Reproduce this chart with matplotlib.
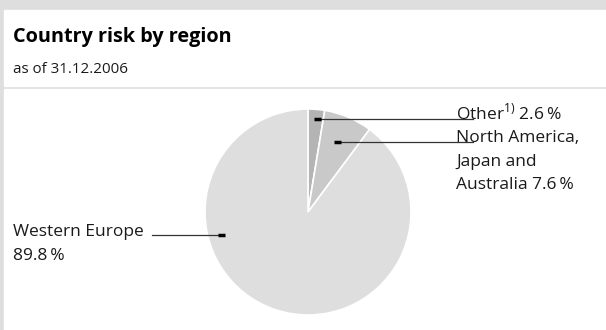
import matplotlib
matplotlib.use("Agg")
import matplotlib.pyplot as plt
from matplotlib.patches import Rectangle
import numpy as np

plt.rcParams['font.family'] = ['Open Sans', 'DejaVu Sans']
plt.rcParams['mathtext.fontset'] = 'custom'
plt.rcParams['mathtext.rm'] = 'Open Sans'

# data
regions = ['Other', 'North America, Japan and Australia', 'Western Europe']
shares = [2.6, 7.6, 89.8]
labels = [['Other$^{\\mathrm{1)}}$ 2.6\u2009%'],
          ['North America,', 'Japan and', 'Australia 7.6\u2009%'],
          ['Western Europe', '89.8\u2009%']]
colors = ['#b4b4b4', '#c9c9c9', '#dedede']

title = 'Country risk by region'
subtitle = 'as of 31.12.2006'

W, H = 606, 330
fig = plt.figure(figsize=(W / 100, H / 100), dpi=100)

# background panels (pixel coords, y down)
bg = fig.add_axes([0, 0, 1, 1], zorder=0)
bg.set_xlim(0, W)
bg.set_ylim(H, 0)
bg.axis('off')
bg.add_patch(Rectangle((0, 0), W, H, color='#dedede'))
bg.add_patch(Rectangle((4, 10), W - 4, 76, color='white'))
bg.add_patch(Rectangle((4, 89), W - 4, H - 89, color='white'))

# pie
cx, cy, r = 308, 212, 103
pa = fig.add_axes([(cx - r) / W, (H - cy - r) / H, 2 * r / W, 2 * r / H], zorder=1)
pa.pie(shares, colors=colors, startangle=90, counterclock=False, radius=1,
       wedgeprops=dict(edgecolor='white', linewidth=1.2))
pa.set_xlim(-1, 1)
pa.set_ylim(-1, 1)
pa.axis('off')

# overlay for labels and leader lines
ov = fig.add_axes([0, 0, 1, 1], zorder=2)
ov.set_xlim(0, W)
ov.set_ylim(H, 0)
ov.axis('off')
ov.patch.set_visible(False)

# anchor (angle deg, radius frac), line end x, label position
anchors = [(84, 0.91), (67.5, 0.74), (195, 0.87)]
line_end = [473, 473, 152]
label_pos = [(456, 119), (456, 142), (13, 236)]
step = 23.5

for (ang, rf), xe, (lx, ly), lab in zip(anchors, line_end, label_pos, labels):
    ax_ = cx + rf * r * np.cos(np.radians(ang))
    ay_ = cy - rf * r * np.sin(np.radians(ang))
    ov.plot([ax_, xe], [ay_, ay_], color='#333333', lw=0.9)
    ov.plot([ax_ - 3.5, ax_ + 3.5], [ay_, ay_], color='black', lw=2.5,
            solid_capstyle='butt')
    for i, line in enumerate(lab):
        ov.text(lx, ly + i * step, line, fontsize=12.5, color='#1a1a1a',
                ha='left', va='baseline')

fig.text(13 / W, 1 - 42 / H, title, fontsize=14.3, fontweight='bold',
         color='black', va='baseline')
fig.text(13 / W, 1 - 73 / H, subtitle, fontsize=10.9, color='#1a1a1a',
         va='baseline')

fig.savefig('out.png', dpi=100)
